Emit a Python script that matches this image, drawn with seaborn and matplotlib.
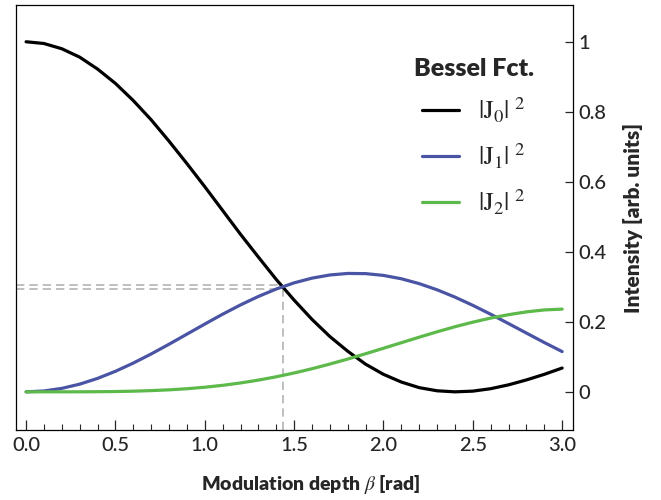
import numpy as np
import pandas as pd
import matplotlib
matplotlib.use("Agg")
import matplotlib.pyplot as plt
from matplotlib.ticker import MultipleLocator, FormatStrFormatter, FuncFormatter
import seaborn as sns

# modulation depth (rad) and squared Bessel amplitudes
beta = [0.0, 0.1, 0.2, 0.3, 0.4, 0.5, 0.6, 0.7, 0.8, 0.9, 1.0,
        1.1, 1.2, 1.3, 1.4, 1.5, 1.6, 1.7, 1.8, 1.9, 2.0,
        2.1, 2.2, 2.3, 2.4, 2.5, 2.6, 2.7, 2.8, 2.9, 3.0]
j0_sq = [1.000, 0.995, 0.980, 0.956, 0.922, 0.881, 0.832, 0.777, 0.716, 0.652, 0.586,
         0.518, 0.450, 0.385, 0.321, 0.262, 0.207, 0.158, 0.116, 0.079, 0.050,
         0.028, 0.012, 0.003, 0.000, 0.002, 0.009, 0.020, 0.034, 0.050, 0.068]
j1_sq = [0.000, 0.0025, 0.0099, 0.0220, 0.0384, 0.0587, 0.0822, 0.1082, 0.1360, 0.1648, 0.1936,
         0.2218, 0.2483, 0.2725, 0.2937, 0.3113, 0.3248, 0.3338, 0.3382, 0.3377, 0.3326,
         0.3230, 0.3091, 0.2915, 0.2706, 0.2471, 0.2217, 0.1950, 0.1679, 0.1409, 0.1150]
j2_sq = [0.0000, 0.0000, 0.0000, 0.0001, 0.0004, 0.0009, 0.0019, 0.0035, 0.0057, 0.0089, 0.0132,
         0.0186, 0.0254, 0.0335, 0.0430, 0.0539, 0.0660, 0.0794, 0.0937, 0.1088, 0.1245,
         0.1403, 0.1561, 0.1715, 0.1860, 0.1990, 0.2107, 0.2204, 0.2284, 0.2340, 0.2363]

series_names = [r'$|\mathrm{J}_0|\;{}^2$', r'$|\mathrm{J}_1|\;{}^2$', r'$|\mathrm{J}_2|\;{}^2$']
colors = ['#000000', '#4a54a4', '#5cb94a']

# crossing of |J0|^2 and |J1|^2 marked by dashed guides
cross_x = 1.44
cross_y = [0.295, 0.305]

df = pd.DataFrame({
    'beta': beta * 3,
    'intensity': j0_sq + j1_sq + j2_sq,
    'series': [series_names[0]] * len(beta) + [series_names[1]] * len(beta) + [series_names[2]] * len(beta),
})

sns.set_style('white')
plt.rcParams['font.family'] = ['Lato', 'DejaVu Sans']
plt.rcParams['mathtext.fontset'] = 'stix'

fig = plt.figure(figsize=(6.61, 5.0), dpi=100)
ax = fig.add_axes([0.0238, 0.14, 0.8426, 0.85])

xlim = (-0.058, 3.059)
ylim = (-0.109, 1.105)

ax.hlines(cross_y, xlim[0], cross_x, colors='#b4b4b4', lw=1.2, linestyles=(0, (5, 3)), zorder=1)
ax.vlines(cross_x, ylim[0], max(cross_y), colors='#b4b4b4', lw=1.2, linestyles=(0, (5, 3)), zorder=1)

sns.lineplot(data=df, x='beta', y='intensity', hue='series', palette=colors,
             linewidth=2.3, ax=ax, zorder=3)

ax.set_xlim(*xlim)
ax.set_ylim(*ylim)

for sp in ax.spines.values():
    sp.set_visible(True)
    sp.set_color('black')
    sp.set_linewidth(0.9)

ax.xaxis.set_major_locator(MultipleLocator(0.5))
ax.xaxis.set_minor_locator(MultipleLocator(0.1))
ax.xaxis.set_major_formatter(FormatStrFormatter('%.1f'))
ax.yaxis.set_major_locator(MultipleLocator(0.2))
ax.yaxis.set_major_formatter(FuncFormatter(lambda v, p: f'{v:g}' if abs(v) > 1e-9 else '0'))
ax.yaxis.tick_right()
ax.yaxis.set_label_position('right')
ax.tick_params(axis='x', which='major', direction='in', length=7, width=0.9,
               labelsize=14.5, pad=5, bottom=True, top=False)
ax.tick_params(axis='x', which='minor', direction='in', length=4, width=0.8, bottom=True, top=False)
ax.tick_params(axis='y', which='major', direction='in', length=6, width=0.9,
               labelsize=14.5, pad=4, right=True, left=False)
for lab in ax.get_xticklabels() + ax.get_yticklabels():
    lab.set_fontweight('medium')

ax.set_xlabel(r'Modulation depth $\beta$ [rad]', fontsize=14, fontweight='heavy')
ax.xaxis.set_label_coords(0.53, -0.1)
ax.set_ylabel('Intensity [arb. units]', fontsize=15, fontweight='heavy', labelpad=12)
ax.grid(False)

handles, labels = ax.get_legend_handles_labels()
leg = ax.legend(handles, labels, title='Bessel Fct.', loc='upper left',
                bbox_to_anchor=(0.715, 0.876), frameon=False, borderpad=0, borderaxespad=0,
                prop={'family': 'Liberation Serif', 'size': 19}, labelspacing=0.62,
                handlelength=1.4, handletextpad=0.7,
                title_fontproperties={'weight': 'heavy', 'size': 18})
for h in leg.get_lines():
    h.set_linewidth(2.3)

fig.savefig('out.png', dpi=100)
